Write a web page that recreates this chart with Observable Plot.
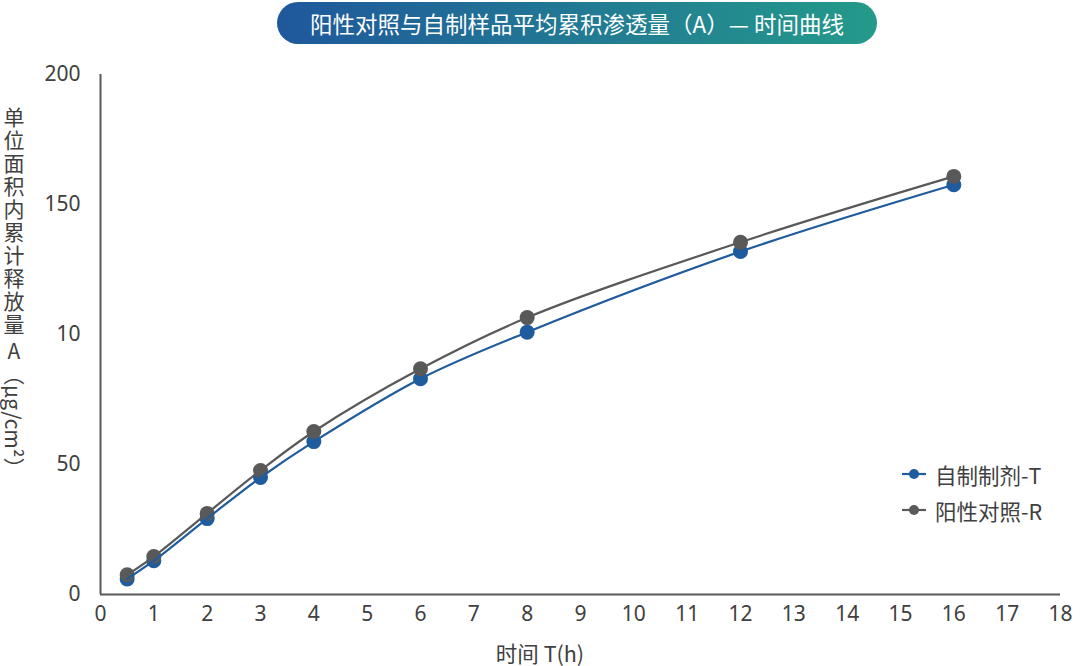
<!DOCTYPE html>
<html>
<head>
<meta charset="utf-8">
<script src="https://cdn.jsdelivr.net/npm/d3@7"></script>
<script src="https://cdn.jsdelivr.net/npm/@observablehq/plot@0.6"></script>
<style>
  html, body { margin: 0; padding: 0; background: #fff; }
  #chart { position: relative; width: 1080px; height: 666px; }
</style>
</head>
<body>
<div id="chart"></div>
<script>
// ---- data ----
const times = [0.5, 1, 2, 3, 4, 6, 8, 12, 16];
const seriesT = [6.0, 13.0, 29.2, 45.0, 58.8, 83.0, 100.9, 131.9, 157.6];
const seriesR = [7.6, 14.6, 31.2, 47.7, 62.7, 86.8, 106.5, 135.5, 160.8];
const seriesNames = ["自制制剂-T", "阳性对照-R"];
const seriesColors = ["#1f5c9e", "#595959"];
const xTicks = [0,1,2,3,4,5,6,7,8,9,10,11,12,13,14,15,16,17,18];
const yTicks = [0, 50, 100, 150, 200];
const yTickLabels = ["0", "50", "10", "150", "200"];
const title = "阳性对照与自制样品平均累积渗透量（A）— 时间曲线";
const xLabel = "时间 T(h)";
const yLabelParts = ["单位面积内累计释放量", "A", "（μg/cm²）"];

const rows = [];
times.forEach((t, i) => {
  rows.push({t, v: seriesT[i], s: seriesNames[0]});
  rows.push({t, v: seriesR[i], s: seriesNames[1]});
});
const rowsT = rows.filter(d => d.s === seriesNames[0]);
const rowsR = rows.filter(d => d.s === seriesNames[1]);

const axisColor = "#595959";
const textColor = "#404040";
const fontFam = "'Noto Sans', 'Noto Sans CJK SC', sans-serif";
const cjkFam = "'Noto Sans CJK SC', 'Noto Sans', sans-serif";

const chart = Plot.plot({
  width: 1080,
  height: 666,
  marginTop: 74,
  marginBottom: 72,
  marginLeft: 100,
  marginRight: 20,
  style: {fontSize: "21px", color: textColor, fontFamily: fontFam},
  x: {domain: [0, 18], label: null},
  y: {domain: [0, 200], label: null},
  marks: [
    Plot.axisX({ticks: xTicks, tickSize: 0, tickPadding: 12, fill: textColor, fontSize: 21, label: null,
      tickFormat: d => String(d)}),
    Plot.axisY({ticks: yTicks, tickSize: 0, tickPadding: 20, fill: textColor, fontSize: 21, label: null,
      tickFormat: d => yTickLabels[yTicks.indexOf(d)]}),
    Plot.ruleY([0], {stroke: axisColor, strokeWidth: 2}),
    Plot.ruleX([0], {stroke: axisColor, strokeWidth: 2}),
    Plot.dot(rowsT, {x: "t", y: "v", fill: seriesColors[0], r: 7.5}),
    Plot.dot(rowsR, {x: "t", y: "v", fill: seriesColors[1], r: 7.5}),
    Plot.line(rowsT, {x: "t", y: "v", stroke: seriesColors[0], strokeWidth: 2.2, curve: "catmull-rom"}),
    Plot.line(rowsR, {x: "t", y: "v", stroke: seriesColors[1], strokeWidth: 2.2, curve: "catmull-rom"})
  ]
});
document.getElementById("chart").appendChild(chart);

const svg = d3.select(chart);

// title pill
const defs = svg.append("defs");
const grad = defs.append("linearGradient").attr("id", "pillGrad").attr("x1", "0%").attr("x2", "100%");
grad.append("stop").attr("offset", "0%").attr("stop-color", "#1f589c");
grad.append("stop").attr("offset", "100%").attr("stop-color", "#249a8a");
svg.append("rect").attr("x", 277).attr("y", 2).attr("width", 600).attr("height", 42)
  .attr("rx", 21).attr("fill", "url(#pillGrad)");
svg.append("text").attr("x", 577).attr("y", 23).attr("text-anchor", "middle")
  .attr("dominant-baseline", "central").attr("fill", "#fff").attr("font-size", 22.5)
  .style("font-family", cjkFam).style("font-weight", 400)
  .text(title);

// y label (vertical)
const yl = svg.append("text").attr("x", 14).attr("y", 107)
  .attr("text-anchor", "start")
  .attr("writing-mode", "vertical-rl")
  .style("writing-mode", "vertical-rl")
  .style("font-family", cjkFam)
  .attr("fill", textColor).attr("font-size", 21);
yl.append("tspan").style("letter-spacing", "2px").text(yLabelParts[0]);
yl.append("tspan").attr("dy", 4).style("text-orientation", "upright").text(yLabelParts[1]);
yl.append("tspan").attr("dy", 2).text(yLabelParts[2]);

// x label
svg.append("text").attr("x", 540).attr("y", 652).attr("text-anchor", "middle")
  .attr("dominant-baseline", "central").attr("fill", textColor).attr("font-size", 21.5)
  .style("font-family", cjkFam)
  .text(xLabel);

// legend
seriesNames.forEach((name, i) => {
  const y = 474 + i * 36;
  const g = svg.append("g");
  g.append("line").attr("x1", 902).attr("x2", 926).attr("y1", y).attr("y2", y)
    .attr("stroke", seriesColors[i]).attr("stroke-width", 2.2);
  g.append("circle").attr("cx", 914).attr("cy", y).attr("r", 5).attr("fill", seriesColors[i]);
  g.append("text").attr("x", 935).attr("y", y).attr("text-anchor", "start")
    .attr("dominant-baseline", "central")
    .style("font-family", cjkFam)
    .attr("fill", textColor).attr("font-size", 21.5).text(name);
});
</script>
</body>
</html>
